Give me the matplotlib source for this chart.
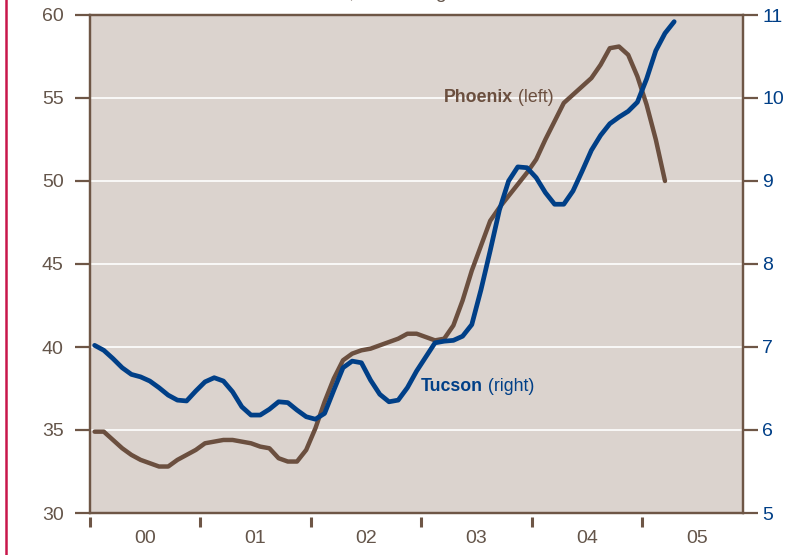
import numpy as np
import matplotlib.pyplot as plt
from matplotlib.lines import Line2D

# ======= Data (monthly, Jan 2000 onward) =======
phoenix = [34.9, 34.9, 34.4, 33.9, 33.5, 33.2, 33.0, 32.8, 32.8, 33.2, 33.5, 33.8,
           34.2, 34.3, 34.4, 34.4, 34.3, 34.2, 34.0, 33.9, 33.3, 33.1, 33.1, 33.8,
           35.1, 36.7, 38.1, 39.2, 39.6, 39.8, 39.9, 40.1, 40.3, 40.5, 40.8, 40.8,
           40.6, 40.4, 40.5, 41.3, 42.8, 44.6, 46.1, 47.6, 48.4, 49.1, 49.8, 50.5,
           51.3, 52.5, 53.6, 54.7, 55.2, 55.7, 56.2, 57.0, 58.0, 58.1, 57.6, 56.3,
           54.6, 52.5, 50.0]
tucson = [7.02, 6.96, 6.86, 6.75, 6.67, 6.64, 6.59, 6.51, 6.42, 6.36, 6.35, 6.47,
          6.58, 6.63, 6.59, 6.46, 6.28, 6.18, 6.18, 6.25, 6.34, 6.33, 6.24, 6.16,
          6.13, 6.20, 6.48, 6.75, 6.83, 6.81, 6.60, 6.43, 6.34, 6.36, 6.51, 6.71,
          6.88, 7.05, 7.07, 7.08, 7.13, 7.27, 7.69, 8.16, 8.65, 9.00, 9.17, 9.16,
          9.04, 8.86, 8.72, 8.72, 8.88, 9.12, 9.37, 9.55, 9.69, 9.77, 9.84, 9.95,
          10.23, 10.57, 10.78, 10.92]
year_labels = ["00", "01", "02", "03", "04", "05"]
left_ticks = [30, 35, 40, 45, 50, 55, 60]
right_ticks = [5, 6, 7, 8, 9, 10, 11]

t_phx = 2000 + (np.arange(len(phoenix)) + 0.5) / 12
t_tuc = 2000 + (np.arange(len(tucson)) + 0.5) / 12

# ======= Style =======
brown = "#6b4f3f"
spine_c = "#6e5646"
blue = "#003f87"
label_c = "#64554a"
bg = "#dbd3ce"
plt.rcParams['font.family'] = ['Liberation Sans', 'DejaVu Sans']

fig = plt.figure(figsize=(7.97, 5.55), dpi=100)
ax = fig.add_axes([90 / 797, 42 / 555, 653 / 797, 498 / 555])
ax.set_facecolor(bg)
ax2 = ax.twinx()

ax.set_xlim(2000, 2005.915)
ax.set_ylim(30, 60)
ax2.set_ylim(5, 11)

# gridlines
for v in left_ticks[1:-1]:
    ax.axhline(v, color="white", lw=1.2, zorder=1)

ax.plot(t_phx, phoenix, color=brown, lw=3.2, solid_capstyle='round', zorder=3)
ax2.plot(t_tuc, tucson, color=blue, lw=3.4, solid_capstyle='round', zorder=3)

for a in (ax, ax2):
    for s in a.spines.values():
        s.set_color(spine_c)
        s.set_linewidth(1.6)

ax.set_yticks(left_ticks)
ax.tick_params(axis='y', length=11, width=1.6, color=spine_c, pad=8,
               labelsize=14, labelcolor=label_c)
ax2.set_yticks(right_ticks)
ax2.tick_params(axis='y', length=11, width=1.6, color=spine_c, pad=3,
                labelsize=14, labelcolor=blue)

# x axis: detached year ticks, labels mid-year
years = np.arange(2000, 2006)
ax.set_xticks(years)
ax.set_xticklabels([])
ax.set_xticks(years + 0.5, minor=True)
ax.set_xticklabels(year_labels, minor=True)
ax.tick_params(axis='x', which='both', length=0, pad=12, labelsize=14,
               labelcolor=label_c)
ax.vlines(years, -0.009, -0.029, transform=ax.get_xaxis_transform(),
          color=spine_c, lw=2.2, clip_on=False)

# series labels
t1 = ax.text(2003.207, 55.0, "Phoenix", color=brown, fontsize=12.8,
             fontweight='bold', ha='left', va='center', zorder=4)
ax.annotate(" (left)", xy=(1, 0), xycoords=t1, color=brown, fontsize=12.8,
            ha='left', va='bottom', zorder=4)
t2 = ax.text(2003.0, 37.6, "Tucson", color=blue, fontsize=12.8,
             fontweight='bold', ha='left', va='center', zorder=4)
ax.annotate(" (right)", xy=(1, 0), xycoords=t2, color=blue, fontsize=12.8,
            ha='left', va='bottom', zorder=4)

# cropped subtitle (only descenders show) and red edge rule
fig.text(252 / 797, 1 + 2 / 555, "Thousands, 3-mo. avg.", color=label_c,
         fontsize=14, ha='left', va='baseline')
fig.add_artist(Line2D([6 / 797, 6 / 797], [0, 1], color="#c8174a", lw=1.8,
                      transform=fig.transFigure))

plt.savefig("out.png", dpi=100)
